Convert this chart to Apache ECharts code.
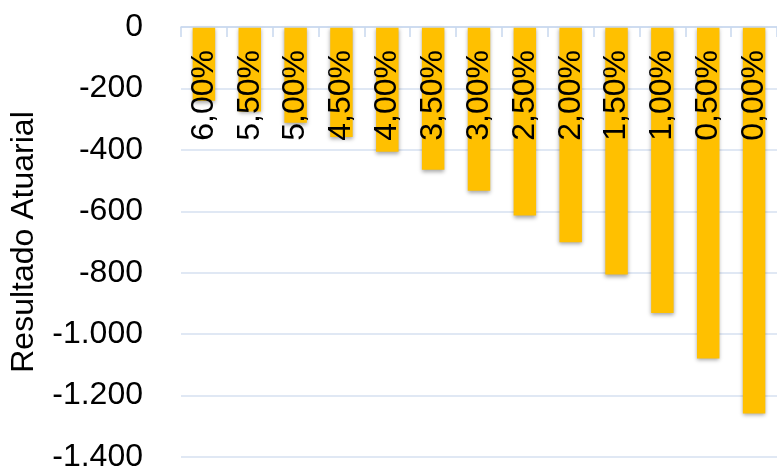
<!DOCTYPE html>
<html>
<head>
<meta charset="utf-8">
<script src="https://cdn.jsdelivr.net/npm/echarts@6/dist/echarts.min.js"></script>
<style>html,body{margin:0;padding:0;background:#fff}#c{width:777px;height:473px}</style>
</head>
<body>
<div id="c"></div>
<script>
const categories = ['6,00%','5,50%','5,00%','4,50%','4,00%','3,50%','3,00%','2,50%','2,00%','1,50%','1,00%','0,50%','0,00%'];
const values = [-240,-275,-312,-358,-406,-465,-533,-614,-701,-806,-931,-1079,-1258];
const yMin = -1400, yMax = 0, yStep = 200;
const yName = 'Resultado Atuarial';

function fmt(v){
  const s = Math.abs(v).toString().replace(/\B(?=(\d{3})+(?!\d))/g,'.');
  return (v<0?'-':'')+s;
}
const FONT = "'Liberation Sans', Arial, sans-serif";
const chart = echarts.init(document.getElementById('c'), null, {renderer:'canvas'});
chart.setOption({
  animation:false,
  backgroundColor:'#ffffff',
  grid:{left:175,right:-11,top:27,bottom:11,containLabel:false},
  xAxis:{
    type:'category', data:categories, position:'top', z:5,
    axisLine:{show:true,lineStyle:{color:'#c8d8ee',width:1.5}},
    axisTick:{show:true,inside:true,length:10,alignWithLabel:false,lineStyle:{color:'#c8d8ee',width:1.5}},
    axisLabel:{inside:true,rotate:90,margin:23,fontSize:32,color:'#000',fontFamily:FONT,interval:0}
  },
  yAxis:{
    type:'value', min:yMin, max:yMax, interval:yStep,
    name:yName, nameLocation:'middle', nameGap:141,
    nameTextStyle:{fontSize:32,color:'#000',fontFamily:FONT},
    axisLine:{show:false}, axisTick:{show:false},
    axisLabel:{formatter:fmt,fontSize:32,color:'#000',fontFamily:FONT,margin:38},
    splitLine:{show:true,lineStyle:{color:'#d6e1f0',width:1.5}}
  },
  series:[{
    type:'bar', data:values, barWidth:'49%',
    itemStyle:{color:'#FFC000',shadowColor:'rgba(0,0,0,0.35)',shadowBlur:4,shadowOffsetY:2}
  }]
});
</script>
</body>
</html>
